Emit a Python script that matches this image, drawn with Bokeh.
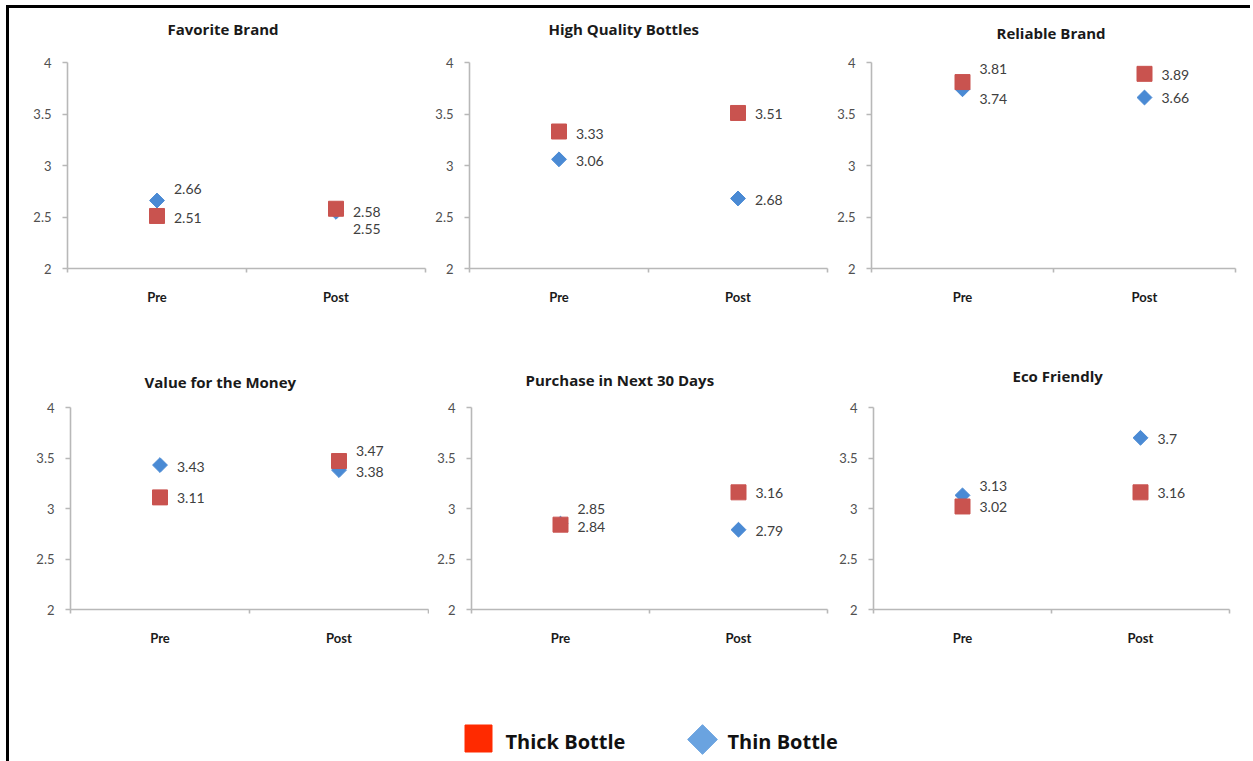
import math

from bokeh.core.properties import value
from bokeh.embed import file_html
from bokeh.layouts import column, row
from bokeh.models import ColumnDataSource, FixedTicker, Range1d, Title
from bokeh.plotting import figure
from bokeh.resources import INLINE

# ---- data -------------------------------------------------------------
phases = ["Pre", "Post"]
titles = ["Favorite Brand", "High Quality Bottles", "Reliable Brand",
          "Value for the Money", "Purchase in Next 30 Days", "Eco Friendly"]
series_names = ["Thick Bottle", "Thin Bottle"]
thick_bottle = [[2.51, 2.58], [3.33, 3.51], [3.81, 3.89],
                [3.11, 3.47], [2.84, 3.16], [3.02, 3.16]]
thin_bottle = [[2.66, 2.55], [3.06, 2.68], [3.74, 3.66],
               [3.43, 3.38], [2.85, 2.79], [3.13, 3.70]]
y_ticks = [2, 2.5, 3, 3.5, 4]

# ---- styling ------------------------------------------------------------
FONT = "Lato"
HEAD_FONT = "Open Sans"
THICK = "#C9534F"
THIN = "#4A8AD4"
THICK_KEY = "#FF2A00"
THIN_KEY = "#6AA3E0"
AXIS = "#B8B8B8"
TEXT = "#404040"

# page boxes (x0, y0, x1, y1) of each panel and its plotting frame (left, top, w, h)
cells = [(9, 8, 427, 335), (427, 8, 829, 335), (829, 8, 1250, 335),
         (9, 335, 429, 655), (429, 335, 831, 655), (831, 335, 1250, 655)]
frames = [(67, 62, 358, 206), (469, 62, 358, 207), (871, 58, 364, 210),
          (70, 405, 358, 207), (471, 407, 356, 207), (873, 402, 356, 207)]
# left edge (page px) of each chart title and the empty gap between title and frame
title_left = [167, 548, 996, 144, 525, 1012]
title_gap = [20, 20, 16, 12, 14, 18]

# vertical nudges (px, downwards) that keep close value labels apart
thick_dy = [[2, 3], [2, 1], [-13, 1], [1, -10], [2, 1], [1, 1]]
thin_dy = [[-12, 17], [2, 2], [10, 0], [2, 2], [-15, 1], [-9, 1]]


def fmt(v):
    return f"{v:g}"


def make_panel(i):
    x0, y0, x1, y1 = cells[i]
    fl, ft, fw, fh = frames[i]
    p = figure(width=x1 - x0, height=y1 - y0,
               x_range=Range1d(0, len(phases)),
               y_range=Range1d(y_ticks[0], y_ticks[-1]),
               output_backend="svg", toolbar_location=None,
               min_border_left=fl - x0, min_border_right=x1 - fl - fw,
               min_border_top=ft - y0, min_border_bottom=y1 - ft - fh)
    p.outline_line_color = None
    p.grid.visible = False
    p.background_fill_color = "white"
    p.border_fill_color = "white"

    # a blank band sits between the plotting area and the chart title
    p.add_layout(Title(text=" ", text_font_size="1px", standoff=title_gap[i]), "above")
    p.add_layout(Title(text=titles[i], align="left", offset=title_left[i] - fl,
                       standoff=2, text_font=HEAD_FONT, text_font_style="bold",
                       text_font_size="15px", text_color="#1a1a1a"), "above")

    # category axis: labels at the category centres, ticks between them
    xs = [k + 0.5 for k in range(len(phases))]
    xa = p.below[0]
    xa.ticker = FixedTicker(ticks=xs, minor_ticks=list(range(len(phases) + 1)))
    xa.major_label_overrides = {x: name for x, name in zip(xs, phases)}
    xa.major_tick_out = 0
    xa.major_tick_in = 0
    xa.minor_tick_out = 4
    xa.minor_tick_in = 0
    xa.major_label_standoff = 16
    xa.axis_line_color = AXIS
    xa.axis_line_width = 1.6
    xa.minor_tick_line_color = AXIS
    xa.minor_tick_line_width = 1.6
    xa.major_label_text_font = FONT
    xa.major_label_text_font_style = "bold"
    xa.major_label_text_font_size = "13px"
    xa.major_label_text_color = "#1a1a1a"

    ya = p.left[0]
    ya.ticker = FixedTicker(ticks=y_ticks, minor_ticks=[])
    ya.major_label_overrides = {t: fmt(t) for t in y_ticks}
    ya.major_tick_out = 5
    ya.major_tick_in = 0
    ya.major_label_standoff = 11
    ya.axis_line_color = AXIS
    ya.axis_line_width = 1.6
    ya.major_tick_line_color = AXIS
    ya.major_tick_line_width = 1.6
    ya.major_label_text_font = FONT
    ya.major_label_text_font_size = "13px"
    ya.major_label_text_color = "#505050"

    thin_src = ColumnDataSource(dict(
        x=xs, y=thin_bottle[i], label=[fmt(v) for v in thin_bottle[i]], dy=thin_dy[i]))
    thick_src = ColumnDataSource(dict(
        x=xs, y=thick_bottle[i], label=[fmt(v) for v in thick_bottle[i]], dy=thick_dy[i]))

    p.scatter("x", "y", source=thin_src, marker="square", angle=math.pi / 4,
              size=10.5, fill_color=THIN, line_color=THIN)
    p.scatter("x", "y", source=thick_src, marker="square", size=15,
              fill_color=THICK, line_color=THICK)

    for src in (thin_src, thick_src):
        p.text("x", "y", text="label", source=src, x_offset=17, y_offset="dy",
               text_font=value(FONT), text_font_size="14px", text_color=TEXT,
               text_align="left", text_baseline="middle")
    return p


panels = [make_panel(i) for i in range(len(titles))]

# ---- legend strip ---------------------------------------------------------
LEG_W, LEG_H = 1241, 106
leg = figure(width=LEG_W, height=LEG_H, x_range=Range1d(0, LEG_W), y_range=Range1d(0, LEG_H),
             output_backend="svg", toolbar_location=None,
             min_border_left=0, min_border_right=0, min_border_top=0, min_border_bottom=0)
leg.axis.visible = False
leg.grid.visible = False
leg.outline_line_color = None

key_x = [469, 693]
key_y = [23, 22]
key_text_x = [496, 718]
leg.scatter([key_x[0]], [key_y[0]], marker="square", size=27,
            fill_color=THICK_KEY, line_color=THICK_KEY)
leg.scatter([key_x[1]], [key_y[1]], marker="square", angle=math.pi / 4, size=21,
            fill_color=THIN_KEY, line_color=THIN_KEY)
leg.text(key_text_x, [20, 20], text=series_names, text_font=value(HEAD_FONT),
         text_font_style="bold", text_font_size="20px", text_color="#111111",
         text_align="left", text_baseline="middle")

layout = column(row(*panels[:3]), row(*panels[3:]), leg,
                styles={"border-top": "3px solid #000", "border-left": "3px solid #000"},
                margin=(5, 0, 0, 6))

open("out.html", "w").write(file_html(layout, INLINE))
